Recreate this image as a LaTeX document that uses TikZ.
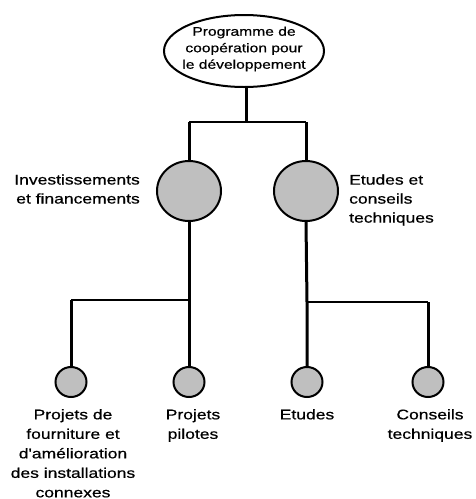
\documentclass[tikz,border=0pt]{standalone}
\usepackage{fontspec}
\setmainfont{Liberation Sans}
\newfontfamily\widefont[FakeStretch=1.25,FakeBold=0.6]{Liberation Sans}
\usetikzlibrary{shapes.geometric}
\begin{document}
\begin{tikzpicture}[x=1pt,y=-1pt,
  lbl/.style={font=\widefont\fontsize{14}{19}\selectfont, inner sep=0pt},
  botlbl/.style={font=\widefont\fontsize{14}{19.5}\selectfont, inner sep=0pt, anchor=north, align=center},
  topbox/.style={ellipse, draw=black, line width=2pt, minimum width=160pt, minimum height=72pt, inner sep=0pt},
  toptext/.style={inner sep=0pt, align=center, font=\widefont\fontsize{12.5}{16.5}\selectfont},
  bigball/.style={ellipse, draw=black, line width=2pt, fill=black!25, minimum width=64pt, minimum height=60pt, inner sep=0pt},
  smallball/.style={ellipse, draw=black, line width=2pt, fill=black!25, minimum width=31pt, minimum height=30pt, inner sep=0pt},
  vline/.style={line width=3pt},
  hline/.style={line width=1.6pt}]
\useasboundingbox (0,0) rectangle (475,499);
\node[topbox] (top) at (244,51) {};
\node[toptext] (toptxt) at (244,49) {Programme de\\coopération pour\\le développement};
\node[bigball] (m1) at (189,191) {};
\node[bigball] (m2) at (306,191) {};
\node[smallball] (b1) at (71,382) {};
\node[smallball] (b2) at (189,382) {};
\node[smallball] (b3) at (307,382) {};
\node[smallball] (b4) at (428,382) {};
\coordinate (j0) at (246,122);
\coordinate (j1l) at (189,122);
\coordinate (j1r) at (306,122);
\coordinate (j2l) at (71,300);
\coordinate (j2r) at (189,300);
\coordinate (j3l) at (307,302);
\coordinate (j3r) at (428,302);
\draw[vline] (top.south -| j0) -- (j0);
\draw[hline] (j1l) -- (j1r);
\draw[vline] (j1l) -- (m1.north);
\draw[vline] (j1r) -- (m2.north);
\draw[vline] (m1.south) -- (j2r) -- (b2.north);
\draw[hline] (j2l) -- (j2r);
\draw[vline] (j2l) -- (b1.north);
\draw[vline] (m2.south) -- (j3l) -- (b3.north);
\draw[hline] (j3l) -- (j3r);
\draw[vline] (j3r) -- (b4.north);
\node[lbl, anchor=east, align=right] (lm1) at (140,189) {Investissements\\et financements};
\node[lbl, anchor=west, align=left] (lm2) at (349,200) {Etudes et\\conseils\\techniques};
\node[botlbl] (lb1) at (73,409) {Projets de\\fourniture et\\d'amélioration\\des installations\\connexes};
\node[botlbl] (lb2) at (193,409) {Projets\\pilotes};
\node[botlbl] (lb3) at (307,409) {Etudes};
\node[botlbl] (lb4) at (430,409) {Conseils\\techniques};
\end{tikzpicture}
\end{document}
